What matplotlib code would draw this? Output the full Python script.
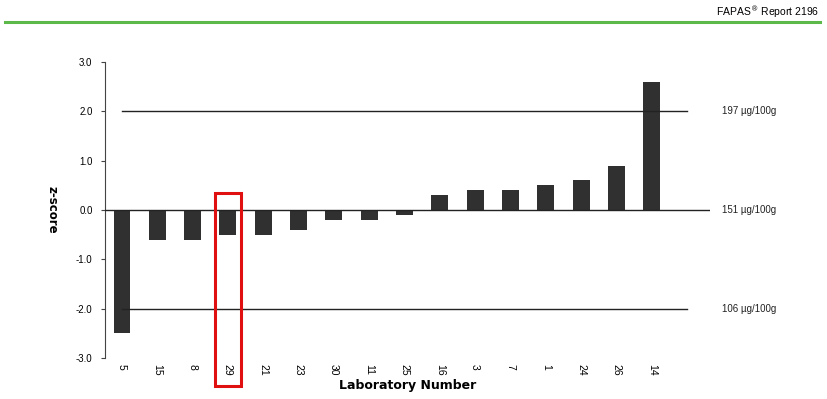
import matplotlib.pyplot as plt
from matplotlib.patches import Rectangle
import numpy as np

labs = ['5', '15', '8', '29', '21', '23', '30', '11', '25', '16', '3', '7', '1', '24', '26', '14']
zscores = [-2.5, -0.6, -0.6, -0.5, -0.5, -0.4, -0.2, -0.2, -0.1, 0.3, 0.4, 0.4, 0.5, 0.6, 0.9, 2.6]
limit_z = [2.0, 0.0, -2.0]
limit_txt = ['197 \u00b5g/100g', '151 \u00b5g/100g', '106 \u00b5g/100g']
yticks = [3.0, 2.0, 1.0, 0.0, -1.0, -2.0, -3.0]
highlight = '29'

plt.rcParams['font.family'] = ['Liberation Sans', 'DejaVu Sans']

fig = plt.figure(figsize=(8.27, 3.99), dpi=100)
ax = fig.add_axes([0.127, 0.1028, 0.7315, 0.7418])

x = np.arange(len(labs))
ax.bar(x, zscores, width=0.48, color='#303030', zorder=2)

# limit lines
ax.axhline(0, color='#222222', lw=1.0, zorder=3)
for z in limit_z:
    if z != 0:
        ax.plot([0, len(labs)], [z, z], color='#222222', lw=1.0, zorder=3)
for z, t in zip(limit_z, limit_txt):
    ax.text(17.0, z, t, fontsize=7, va='center', ha='left', color='#222222', clip_on=False)

# box around the highlighted lab
i = labs.index(highlight)
ax.add_patch(Rectangle((i - 0.38, -3.57), 0.76, 3.92, fill=False, edgecolor='#e01010',
                       lw=2.2, clip_on=False, zorder=5))

ax.set_xlim(-0.48, 16.65)
ax.set_ylim(-3.0, 3.0)
ax.set_yticks(yticks)
ax.set_yticklabels(['%.1f' % v for v in yticks], fontsize=7)
ax.set_xticks(x)
ax.set_xticklabels(labs, rotation=270, fontsize=7.5)
ax.tick_params(axis='x', length=0, pad=4)
ax.tick_params(axis='y', length=3, direction='out', pad=6, color='#444444')

for s in ['top', 'right', 'bottom']:
    ax.spines[s].set_visible(False)
ax.spines['left'].set_color('#444444')
ax.spines['left'].set_bounds(-3.0, 3.0)

ax.set_xlabel('Laboratory Number', fontsize=9, fontweight='bold', family='DejaVu Sans', labelpad=3)
ax.set_ylabel('z-score', fontsize=8.5, fontweight='bold', family='DejaVu Sans', rotation=270)
ax.yaxis.set_label_coords(-0.098, 0.5)

# report header
fig.add_artist(plt.Line2D([0.006, 0.992], [1 - 22 / 399, 1 - 22 / 399], color='#5db84a', lw=2.2))
fig.text(0.99, 1 - 12 / 399, 'FAPAS$^{\u00ae}$ Report 2196', fontsize=7.5, ha='right', va='center')

fig.savefig('out.png', dpi=100)
